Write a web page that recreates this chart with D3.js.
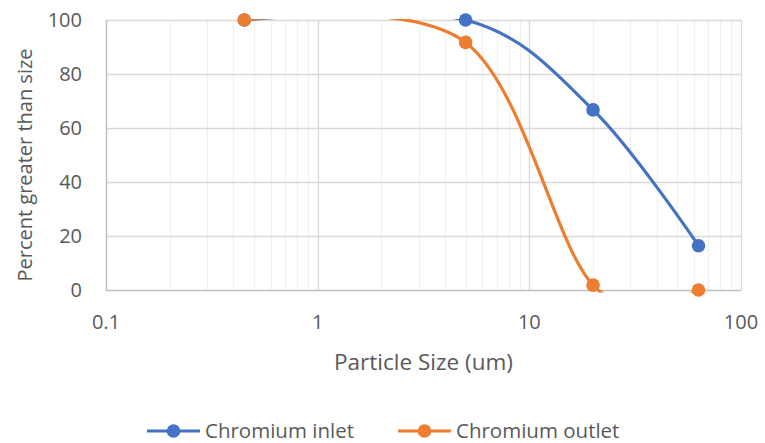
<!DOCTYPE html>
<meta charset="utf-8">
<head>
<style>
  body { margin: 0; background: #fff; }
  text { font-family: "Open Sans", "Liberation Sans", sans-serif; fill: #595959; }
</style>
</head>
<body>
<script src="https://d3js.org/d3.v7.min.js"></script>
<script>
// data (the inlet's first point sits under the outlet's)
var inletSize = [0.45, 5, 20, 63];
var inletPct = [100, 100, 66.7, 16.4];
var outletSize = [0.45, 5, 20, 63];
var outletPct = [100, 91.7, 1.8, 0];
var seriesNames = ["Chromium inlet", "Chromium outlet"];
var seriesColors = ["#4472C4", "#ED7D31"];
var xTicks = [0.1, 1, 10, 100];
var yTicks = [0, 20, 40, 60, 80, 100];

var W = 765, H = 443;
var margin = {top: 20, right: 24, bottom: 153, left: 106},
    width = W - margin.left - margin.right,
    height = H - margin.top - margin.bottom;

var svg = d3.select("body").append("svg")
    .attr("width", W)
    .attr("height", H);

var g = svg.append("g")
    .attr("transform", "translate(" + margin.left + "," + margin.top + ")");

var x = d3.scaleLog().domain([0.1, 100]).range([0, width]);
var y = d3.scaleLinear().domain([0, 100]).range([height, 0]);

// minor vertical grid
var minor = [];
[0.1, 1, 10].forEach(function(d) {
  for (var k = 2; k <= 9; k++) minor.push(d * k);
});
g.selectAll(".minor")
    .data(minor)
  .enter().append("line")
    .attr("x1", function(d) { return Math.round(x(d)) + 0.5; })
    .attr("x2", function(d) { return Math.round(x(d)) + 0.5; })
    .attr("y1", 0).attr("y2", height)
    .style("stroke", "#f0f0f0").style("stroke-width", 1.3);

// horizontal grid
g.selectAll(".hgrid")
    .data(yTicks.slice(1))
  .enter().append("line")
    .attr("x1", 0).attr("x2", width)
    .attr("y1", function(d) { return Math.round(y(d)) + 0.5; })
    .attr("y2", function(d) { return Math.round(y(d)) + 0.5; })
    .style("stroke", "#d9d9d9").style("stroke-width", 1.3);

// major vertical grid
g.selectAll(".major")
    .data(xTicks.slice(1))
  .enter().append("line")
    .attr("x1", function(d) { return Math.round(x(d)) + 0.5; })
    .attr("x2", function(d) { return Math.round(x(d)) + 0.5; })
    .attr("y1", 0).attr("y2", height)
    .style("stroke", "#d9d9d9").style("stroke-width", 1.3);

// axis lines
g.append("line")
    .attr("x1", 0.5).attr("x2", 0.5).attr("y1", 0).attr("y2", height)
    .style("stroke", "#bfbfbf").style("stroke-width", 1.5);
g.append("line")
    .attr("x1", 0).attr("x2", width).attr("y1", height + 0.5).attr("y2", height + 0.5)
    .style("stroke", "#bfbfbf").style("stroke-width", 1.5);

// tick labels
g.selectAll(".ylab")
    .data(yTicks)
  .enter().append("text")
    .attr("x", -24)
    .attr("y", function(d) { return y(d); })
    .attr("dy", "0.35em")
    .attr("text-anchor", "end")
    .style("font-size", "20px")
    .text(function(d) { return d; });

g.selectAll(".xlab")
    .data(xTicks)
  .enter().append("text")
    .attr("x", function(d) { return x(d); })
    .attr("y", height + 39)
    .attr("text-anchor", "middle")
    .style("font-size", "20px")
    .text(function(d) { return d; });

// axis titles
svg.append("text")
    .attr("x", margin.left + width / 2)
    .attr("y", 370)
    .attr("text-anchor", "middle")
    .style("font-size", "22.5px")
    .text("Particle Size (um)");

svg.append("text")
    .attr("transform", "translate(32,165) rotate(-90)")
    .attr("text-anchor", "middle")
    .style("font-size", "20px")
    .text("Percent greater than size");

// clip, a touch looser at the bottom like the original
svg.append("defs").append("clipPath").attr("id", "clip")
  .append("rect").attr("x", -2).attr("y", -1).attr("width", width + 4).attr("height", height + 3.5);

var line = d3.line()
    .x(function(d) { return x(d[0]); })
    .y(function(d) { return y(d[1]); })
    .curve(d3.curveCardinal.tension(0));

var series = [
  d3.zip(inletSize, inletPct),
  d3.zip(outletSize, outletPct)
];

series.forEach(function(s, i) {
  g.append("path")
      .datum(s)
      .attr("clip-path", "url(#clip)")
      .attr("d", line)
      .style("fill", "none")
      .style("stroke", seriesColors[i])
      .style("stroke-width", 3.2);
  g.selectAll(".pt" + i)
      .data(s)
    .enter().append("circle")
      .attr("cx", function(d) { return x(d[0]); })
      .attr("cy", function(d) { return y(d[1]); })
      .attr("r", 6.8)
      .style("fill", seriesColors[i]);
});

// legend
var legX = [147, 398];
seriesNames.forEach(function(name, i) {
  var lg = svg.append("g").attr("transform", "translate(" + legX[i] + ",431)");
  lg.append("line")
      .attr("x1", 0).attr("x2", 53).attr("y1", 0).attr("y2", 0)
      .style("stroke", seriesColors[i]).style("stroke-width", 3.2);
  lg.append("circle").attr("cx", 26.5).attr("cy", 0).attr("r", 6.8)
      .style("fill", seriesColors[i]);
  lg.append("text")
      .attr("x", 58).attr("y", 0).attr("dy", "0.35em")
      .style("font-size", "20.5px")
      .text(name);
});
</script>
</body>
